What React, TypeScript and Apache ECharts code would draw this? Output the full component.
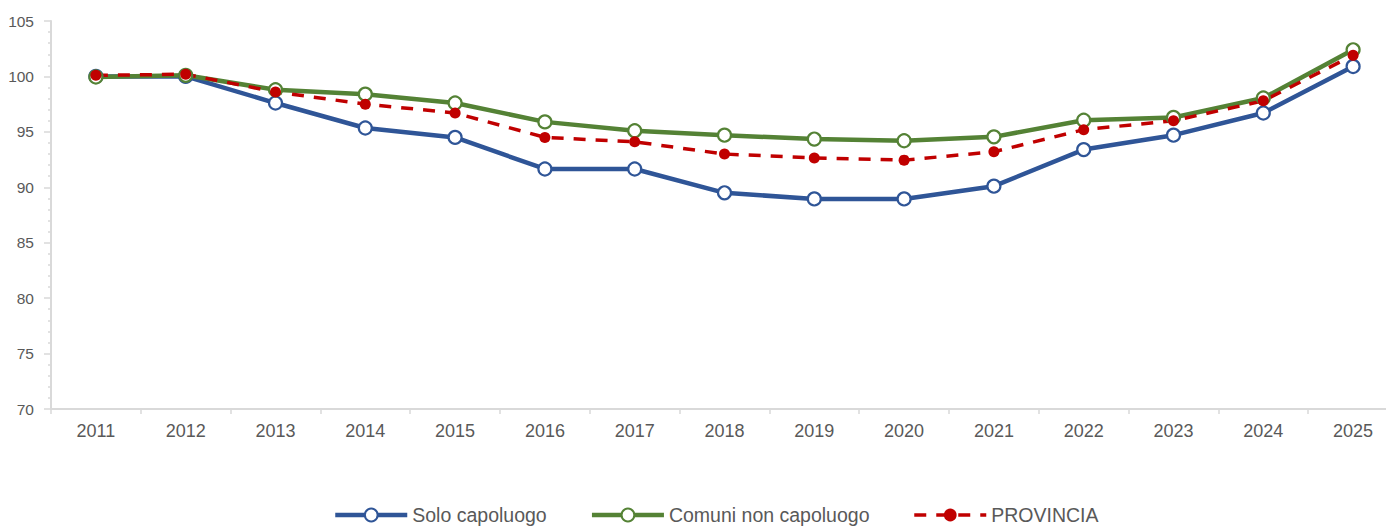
import React, { useEffect, useRef } from "react";
import * as echarts from "echarts";

const years = ["2011","2012","2013","2014","2015","2016","2017","2018","2019","2020","2021","2022","2023","2024","2025"];
const soloCapoluogo = [100.0, 100.0, 97.6, 95.35, 94.5, 91.65, 91.65, 89.5, 88.95, 88.95, 90.1, 93.4, 94.7, 96.7, 100.9];
const comuniNonCapoluogo = [99.95, 100.1, 98.8, 98.4, 97.6, 95.9, 95.1, 94.7, 94.35, 94.2, 94.55, 96.05, 96.3, 98.05, 102.4];
const provincia = [100.1, 100.2, 98.6, 97.5, 96.7, 94.5, 94.1, 93.0, 92.65, 92.45, 93.2, 95.2, 96.0, 97.8, 101.9];

const FONT = "'Liberation Sans', Arial, sans-serif";
const BLUE = "#2f5597";
const GREEN = "#548235";
const RED = "#c00000";

export default function App() {
  const ref = useRef<HTMLDivElement>(null);
  useEffect(() => {
    if (!ref.current) return;
    const chart = echarts.init(ref.current, null, { renderer: "svg" });
    chart.setOption({
      animation: false,
      backgroundColor: "#ffffff",
      grid: { left: 51, top: 21, width: 1347, height: 388, containLabel: false, outerBoundsMode: "none" },
      legend: {
        left: 333,
        top: 505,
        padding: 0,
        itemWidth: 72,
        itemHeight: 16,
        itemGap: 43,
        textStyle: { fontSize: 19.5, color: "#595959", fontFamily: FONT },
        data: [
          { name: "Solo capoluogo", lineStyle: { width: 4.5, color: BLUE } },
          { name: "Comuni non capoluogo", lineStyle: { width: 4.5, color: GREEN } },
          { name: "PROVINCIA", lineStyle: { width: 3.5, color: RED, type: [12, 10] } },
        ],
      },
      xAxis: {
        type: "category",
        data: years,
        boundaryGap: true,
        axisLine: { lineStyle: { color: "#d9d9d9", width: 2 } },
        axisTick: { show: true, length: 5, lineStyle: { color: "#d9d9d9", width: 1.5 } },
        axisLabel: { color: "#595959", fontSize: 18, fontFamily: FONT, margin: 13 },
      },
      yAxis: {
        type: "value",
        min: 70,
        max: 105,
        interval: 5,
        axisLine: { show: true, lineStyle: { color: "#d9d9d9", width: 2 } },
        axisTick: { show: true, length: 7, lineStyle: { color: "#d9d9d9", width: 1.5 } },
        minorTick: { show: true, splitNumber: 5, length: 3, lineStyle: { color: "#d9d9d9", width: 1.5 } },
        splitLine: { show: false },
        axisLabel: { color: "#595959", fontSize: 15.5, fontFamily: FONT, margin: 17 },
      },
      series: [
        {
          name: "Solo capoluogo",
          type: "line",
          data: soloCapoluogo,
          symbol: "circle",
          symbolSize: 13,
          lineStyle: { color: BLUE, width: 4.5 },
          itemStyle: { color: "#ffffff", borderColor: BLUE, borderWidth: 2.2 },
          emphasis: { disabled: true },
        },
        {
          name: "Comuni non capoluogo",
          type: "line",
          data: comuniNonCapoluogo,
          symbol: "circle",
          symbolSize: 13,
          lineStyle: { color: GREEN, width: 4.5 },
          itemStyle: { color: "#ffffff", borderColor: GREEN, borderWidth: 2.2 },
          emphasis: { disabled: true },
        },
        {
          name: "PROVINCIA",
          type: "line",
          data: provincia,
          symbol: "circle",
          symbolSize: 11,
          lineStyle: { color: RED, width: 3.5, type: [12, 10] },
          itemStyle: { color: RED, borderColor: RED, borderWidth: 0 },
          emphasis: { disabled: true },
        },
      ],
    });
    return () => chart.dispose();
  }, []);
  return (
    <div
      ref={ref}
      style={{ position: "fixed", left: 0, top: 0, width: 1386, height: 526, background: "#fff" }}
    />
  );
}
